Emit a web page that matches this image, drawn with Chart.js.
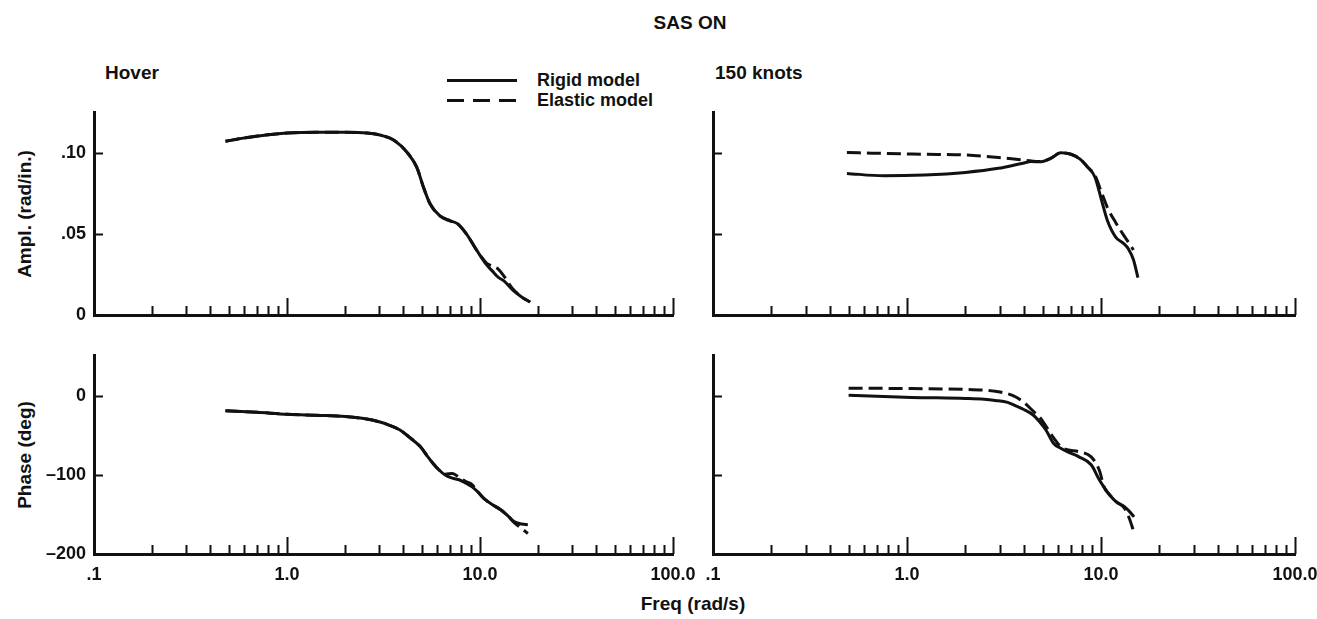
<!DOCTYPE html>
<html>
<head>
<meta charset="utf-8">
<script src="https://cdn.jsdelivr.net/npm/chart.js@4.4.1/dist/chart.umd.min.js"></script>
<style>
  body { margin:0; background:#fff; width:1317px; height:619px; overflow:hidden; position:relative;
         font-family:'Liberation Sans', Arial, sans-serif; font-weight:bold; color:#111; }
  canvas { position:absolute; left:0; top:0; }
  .t { position:absolute; white-space:nowrap; font-size:19px; line-height:1; }
  .c { transform:translate(-50%,-50%); }
  .rot { transform:translate(-50%,-50%) rotate(-90deg); }
  .sample { position:absolute; height:3px; width:70px; }
</style>
</head>
<body>
<div class="t c" style="left:690px;top:22px">SAS ON</div>
<div class="t" style="left:105px;top:63px">Hover</div>
<div class="t" style="left:715px;top:63px">150 knots</div>
<div class="sample" style="left:447px;top:79px;background:#111"></div>
<div class="sample" style="left:447px;top:99px;background:repeating-linear-gradient(to right,#111 0 17px,transparent 17px 26px)"></div>
<div class="t" style="left:537px;top:71px;font-size:18px">Rigid model</div>
<div class="t" style="left:537px;top:91px;font-size:18px">Elastic model</div>
<div class="t rot" style="left:24px;top:214px">Ampl. (rad/in.)</div>
<div class="t rot" style="left:24px;top:455px">Phase (deg)</div>
<div class="t c" style="left:693px;top:603px">Freq (rad/s)</div>

<canvas id="ampHover" width="1400" height="619"></canvas>
<canvas id="ampKnots" width="1400" height="619"></canvas>
<canvas id="phaseHover" width="1400" height="619"></canvas>
<canvas id="phaseKnots" width="1400" height="619"></canvas>

<script>
const W = 1400, H = 619;

// frequency axis (rad/s)
const xLabelValues = [0.1, 1, 10, 100];
const xTickLabels = ['.1', '1.0', '10.0', '100.0'];
const xMajorTicks = [1, 10, 100];
const xMinorTicks = [0.2,0.3,0.4,0.5,0.6,0.7,0.8,0.9, 2,3,4,5,6,7,8,9, 20,30,40,50,60,70,80,90];

const ampTickValues = [0, 0.05, 0.10];
const ampTickLabels = ['0', '.05', '.10'];
const phaseTickValues = [-200, -100, 0];
const phaseTickLabels = ['\u2013200', '\u2013100', '0'];

// Hover, amplitude
const hoverAmpFreq    = [0.48, 0.6, 0.8, 1.0, 1.4, 2.0, 2.6, 3.1, 3.6, 4.2, 4.7, 5.1, 5.5, 6.2, 7.0, 7.6, 8.5, 9.6, 10.8, 11.6, 12.5, 13.3, 14.8, 16.5, 18.2];
const hoverAmpRigid   = [0.107, 0.109, 0.111, 0.112, 0.1125, 0.1125, 0.112, 0.1105, 0.1075, 0.100, 0.091, 0.0785, 0.0687, 0.061, 0.058, 0.0564, 0.050, 0.040, 0.031, 0.027, 0.023, 0.021, 0.0153, 0.011, 0.008];
const hoverAmpElastic = [0.107, 0.109, 0.111, 0.112, 0.1125, 0.1125, 0.112, 0.1105, 0.1075, 0.100, 0.091, 0.0785, 0.0687, 0.061, 0.058, 0.0564, 0.050, 0.040, 0.032, 0.030, 0.028, 0.024, 0.016, 0.011, 0.008];

// Hover, phase
const hoverPhaseFreq    = [0.48, 0.7, 1.0, 1.5, 2.0, 2.5, 3.0, 3.4, 3.85, 4.3, 4.9, 5.3, 5.7, 6.1, 6.6, 7.2, 7.8, 8.4, 9.1, 9.8, 10.5, 11.5, 12.8, 14.0, 15.0, 16.5, 17.7];
const hoverPhaseRigid   = [-18.6, -20.5, -23, -24.5, -26, -28.5, -32.5, -37, -43, -52, -64, -75, -85, -93, -100, -104, -106, -110, -115, -122, -130, -137, -144, -152, -159, -162, -163];
const hoverPhaseElastic = [-18.6, -20.5, -23, -24.5, -26, -28.5, -32.5, -37, -43, -52, -64, -75, -85, -93, -99, -98, -103, -108, -112, -122, -130, -137, -144, -152, -160, -168, -174];

// 150 knots, amplitude
const knotsAmpFreq    = [0.49, 0.76, 1.23, 2.0, 2.96, 3.9, 4.4, 4.8, 5.5, 6.2, 7.0, 7.8, 8.5, 9.3, 10.1, 10.8, 11.9, 13.1, 13.8, 14.7, 15.5];
const knotsAmpRigid   = [0.0872, 0.0857, 0.0862, 0.0878, 0.0903, 0.0933, 0.0945, 0.0943, 0.0964, 0.0999, 0.099, 0.096, 0.0913, 0.085, 0.070, 0.058, 0.048, 0.044, 0.041, 0.034, 0.023];
const knotsAmpElastic = [0.100, 0.0995, 0.099, 0.0985, 0.097, 0.0955, 0.0948, 0.0945, 0.0964, 0.0999, 0.099, 0.096, 0.0913, 0.086, 0.075, 0.066, 0.057, 0.049, 0.045, 0.040];

// 150 knots, phase
const knotsPhaseFreq    = [0.5, 1.06, 2.0, 2.5, 2.85, 3.3, 3.66, 4.0, 4.47, 4.8, 5.2, 5.7, 6.2, 6.7, 7.7, 8.9, 9.8, 10.4, 10.9, 12.0, 13.2, 14.0, 14.8];
const knotsPhaseRigid   = [1, -1.7, -3, -4, -5.5, -8, -12.7, -17, -24, -32, -43, -60, -66, -70.5, -77, -87, -106, -116, -123, -134, -140, -146, -153];
const knotsPhaseElastic = [10, 9.5, 8.5, 7.5, 6, 3, -1.5, -8, -19, -26, -38, -53, -64, -68, -70.5, -77, -94, -116, -123, -134, -142, -155, -173];

const INK = '#111';
Chart.defaults.font.family = "'Liberation Sans', Arial, sans-serif";
Chart.defaults.font.weight = 'bold';
Chart.defaults.font.size = 18;
Chart.defaults.color = INK;

// short tick marks pointing into the plot
const innerTicks = {
  id: 'innerTicks',
  afterDatasetsDraw(chart, args, opts) {
    const {ctx, chartArea, scales} = chart;
    ctx.save();
    ctx.strokeStyle = INK;
    ctx.lineWidth = 2;
    ctx.beginPath();
    xMinorTicks.forEach(v => {
      const px = Math.round(scales.x.getPixelForValue(v)) + 0.5;
      ctx.moveTo(px, chartArea.bottom); ctx.lineTo(px, chartArea.bottom - 9);
    });
    xMajorTicks.forEach(v => {
      const px = Math.round(scales.x.getPixelForValue(v)) + 0.5;
      ctx.moveTo(px, chartArea.bottom); ctx.lineTo(px, chartArea.bottom - 17);
    });
    opts.yTicks.forEach(v => {
      const py = Math.round(scales.y.getPixelForValue(v)) + 0.5;
      ctx.moveTo(chartArea.left, py); ctx.lineTo(chartArea.left + 9, py);
    });
    ctx.stroke();
    ctx.restore();
  }
};

function series(freq, vals, dashed) {
  return {
    data: vals.map((v, i) => ({x: freq[i], y: v})),
    borderColor: INK,
    borderWidth: 3,
    borderDash: dashed ? [14, 6] : [],
    pointRadius: 0,
    fill: false,
    cubicInterpolationMode: 'monotone'
  };
}

function panel(id, box, yMin, yMax, yVals, yLabels, showY, showX, datasets) {
  new Chart(document.getElementById(id), {
    type: 'line',
    data: {datasets: datasets},
    options: {
      responsive: false,
      animation: false,
      events: [],
      layout: {padding: {left: 0, bottom: 0, top: box.top, right: W - box.right}},
      plugins: {legend: {display: false}, tooltip: {enabled: false}, innerTicks: {yTicks: yVals}},
      scales: {
        x: {
          type: 'logarithmic', min: 0.1, max: 100,
          afterBuildTicks: s => { s.ticks = xLabelValues.map(v => ({value: v})); },
          afterFit: s => { s.height = H - box.bottom; },
          grid: {display: false, drawTicks: false},
          border: {display: true, color: INK, width: 3},
          ticks: {display: showX, autoSkip: false, maxRotation: 0, padding: 10,
                  callback: (v, i) => xTickLabels[i]}
        },
        y: {
          type: 'linear', min: yMin, max: yMax,
          afterBuildTicks: s => { s.ticks = yVals.map(v => ({value: v})); },
          afterFit: s => { s.width = box.left; },
          grid: {display: false, drawTicks: false},
          border: {display: true, color: INK, width: 3},
          ticks: {display: showY, autoSkip: false, padding: 8,
                  callback: (v, i) => yLabels[i]}
        }
      }
    },
    plugins: [innerTicks]
  });
}

panel('ampHover', {left: 94, top: 112, right: 673, bottom: 315}, 0, 0.125, ampTickValues, ampTickLabels, true, false, [
  series(hoverAmpFreq, hoverAmpElastic, true),
  series(hoverAmpFreq, hoverAmpRigid, false)
]);
panel('ampKnots', {left: 713, top: 112, right: 1295, bottom: 315}, 0, 0.125, ampTickValues, ampTickLabels, false, false, [
  series(knotsAmpFreq, knotsAmpElastic, true),
  series(knotsAmpFreq, knotsAmpRigid, false)
]);
panel('phaseHover', {left: 94, top: 355, right: 673, bottom: 554}, -200, 52, phaseTickValues, phaseTickLabels, true, true, [
  series(hoverPhaseFreq, hoverPhaseElastic, true),
  series(hoverPhaseFreq, hoverPhaseRigid, false)
]);
panel('phaseKnots', {left: 713, top: 355, right: 1295, bottom: 554}, -200, 52, phaseTickValues, phaseTickLabels, false, true, [
  series(knotsPhaseFreq, knotsPhaseElastic, true),
  series(knotsPhaseFreq, knotsPhaseRigid, false)
]);
</script>
</body>
</html>
